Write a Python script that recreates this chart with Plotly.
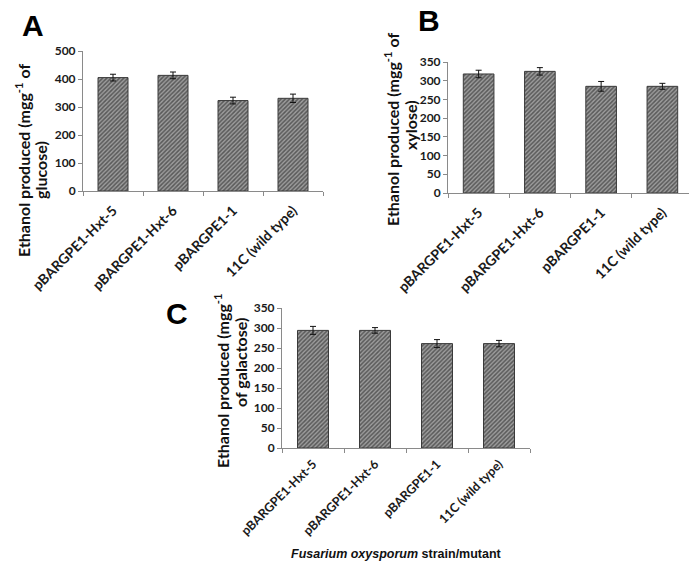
import plotly.graph_objects as go

strains = ["pBARGPE1-Hxt-5", "pBARGPE1-Hxt-6", "pBARGPE1-1", "11C (wild type)"]
glucose_vals = [405, 413, 323, 331]
glucose_err = [12, 12, 12, 15]
xylose_vals = [318, 325, 285, 285]
xylose_err = [10, 10, 13, 8]
galactose_vals = [294, 294, 261, 261]
galactose_err = [10, 7, 10, 8]

# page offset of the figure (default body margin) is compensated here
OFF = 8
W, H = 697 - OFF, 563 - OFF
def px(x): return (x - OFF) / W
def py(y): return 1 - (y - OFF) / H

YTICKFONT = dict(family="Lato", size=12, color="#1a1a1a", weight="bold")
AXCOL = "#8a8a8a"

fig = go.Figure()

panels = [
    dict(vals=glucose_vals, err=glucose_err, xd=[px(83), px(323)], yd=[py(191), py(51)],
         rng=[0, 500], dt=100, sfx="", xfs=14, so=5),
    dict(vals=xylose_vals, err=xylose_err, xd=[px(448), px(693)], yd=[py(193), py(62)],
         rng=[0, 350], dt=50, sfx="2", xfs=14, so=5),
    dict(vals=galactose_vals, err=galactose_err, xd=[px(282), px(530)], yd=[py(448), py(308)],
         rng=[0, 350], dt=50, sfx="3", xfs=12.5, so=3),
]

layout_axes = {}
for p in panels:
    s = p["sfx"]
    fig.add_trace(go.Bar(
        x=strains, y=p["vals"], width=0.5,
        xaxis="x" + s, yaxis="y" + s,
        marker=dict(color="white",
                    line=dict(color="#3a3a3a", width=1),
                    pattern=dict(shape="/", fgcolor="#151515", bgcolor="#9c9c9c",
                                 size=3, solidity=0.5)),
        error_y=dict(type="data", array=p["err"], visible=True,
                     color="#111111", thickness=1, width=3),
        showlegend=False,
    ))
    layout_axes["xaxis" + s] = dict(
        domain=p["xd"], anchor="y" + s, type="category", automargin=False,
        range=[-0.5, 3.5], tickangle=-45,
        tickfont=dict(family="Lato", size=p["xfs"], color="#1a1a1a", weight="bold"),
        ticklabelstandoff=p["so"],
        showline=True, linecolor=AXCOL, linewidth=1,
        ticks="outside", tickson="boundaries", ticklen=4, tickcolor=AXCOL,
        showgrid=False, zeroline=False, fixedrange=True,
    )
    layout_axes["yaxis" + s] = dict(
        domain=p["yd"], anchor="x" + s, automargin=False,
        range=p["rng"], dtick=p["dt"], tickfont=YTICKFONT,
        showline=True, linecolor=AXCOL, linewidth=1,
        ticks="outside", ticklen=4, tickcolor=AXCOL,
        showgrid=False, zeroline=False, fixedrange=True,
    )

TITLEFONT = dict(family="Lato", size=16, color="#111111")
title_lines = [
    ("<b>Ethanol produced (mgg<sup>-1</sup> of</b>", 22, 161),
    ("<b>glucose)</b>", 40, 170),
    ("<b>Ethanol produced (mgg<sup>-1</sup> of</b>", 392, 130),
    ("<b>xylose)</b>", 410, 125),
    ("<b>Ethanol produced (mgg<sup>-1</sup></b>", 221, 381),
    ("<b>of galactose)</b>", 240, 363),
]
annotations = []
for t, x, y in title_lines:
    annotations.append(dict(text=t, x=px(x), y=py(y), textangle=-90,
                            xref="paper", yref="paper", showarrow=False, font=TITLEFONT,
                            xanchor="center", yanchor="middle"))

letters = [("A", 33, 25), ("B", 429, 21), ("C", 177, 313)]
for t, x, y in letters:
    annotations.append(dict(text="<b>%s</b>" % t, x=px(x), y=py(y), xref="paper", yref="paper",
                            showarrow=False, xanchor="center", yanchor="middle",
                            font=dict(family="Liberation Sans", size=30, color="black")))

annotations.append(dict(text="<b><i>Fusarium oxysporum</i> strain/mutant</b>", x=px(396), y=py(554),
                        xref="paper", yref="paper", showarrow=False,
                        xanchor="center", yanchor="middle",
                        font=dict(family="Liberation Sans", size=12.5, color="#111111")))

fig.update_layout(
    width=W, height=H, margin=dict(l=0, r=0, t=0, b=0),
    paper_bgcolor="white", plot_bgcolor="white",
    annotations=annotations, bargap=0.5, **layout_axes,
)

fig.write_html("out.html")
